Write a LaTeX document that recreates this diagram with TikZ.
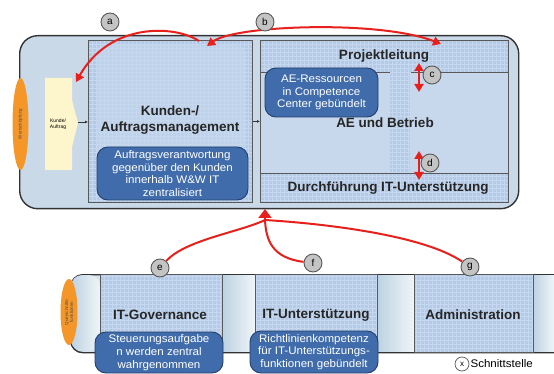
\documentclass[tikz,border=0pt]{standalone}
\usepackage{fontspec}
\setmainfont{Liberation Sans}
\newfontfamily\widefont[FakeStretch=1.05]{Liberation Sans}
\usetikzlibrary{arrows.meta,shapes.geometric,positioning}

\tikzset{
	outerframe/.style={draw=black!80, line width=1.4pt, anchor=north west, inner sep=0pt},
	funcbox/.style={draw=black!65, line width=0.8pt, fill=gridfill, anchor=north west, inner sep=0pt},
	boxedge/.style={draw=black!65, line width=0.8pt},
	gridlines/.style={draw=gridc, line width=0.5pt, step=4pt},
	notebox/.style={draw=calloutline, line width=0.9pt, fill=calloutfill, rounded corners=11pt, text=white, align=center, inner sep=1pt, font=\widefont\fontsize{11}{12.8}\selectfont},
	boxtitle/.style={align=center, text=black!85, font=\bfseries\fontsize{13.5}{16.5}\selectfont},
	tagcircle/.style={circle, draw=black!65, line width=0.9pt, fill=tagfill, minimum size=18pt, inner sep=0pt, font=\fontsize{10}{10}\selectfont},
	redline/.style={draw=arrowred, line width=2pt},
	redarrow/.style={redline, -{Triangle[width=9pt,length=8pt]}},
	redboth/.style={redline, {Triangle[width=9pt,length=8pt]}-{Triangle[width=9pt,length=8pt]}},
	sidelabel/.style={ellipse, fill=orangefill, inner sep=0pt, align=center, text=black!70, font=\fontsize{4.5}{5}\selectfont},
	smallarrow/.style={draw=black!80, line width=0.8pt, -{Latex[length=3pt,width=3pt]}},
}

\begin{document}
\begin{tikzpicture}[x=1pt, y=-1pt]
	\definecolor{framefill}{RGB}{201,217,232}
	\definecolor{supportfill}{RGB}{214,227,237}
	\definecolor{gridfill}{RGB}{180,203,232}
	\definecolor{gridc}{RGB}{198,216,240}
	\definecolor{softfill}{RGB}{199,216,237}
	\definecolor{calloutfill}{RGB}{64,108,172}
	\definecolor{calloutline}{RGB}{35,62,105}
	\definecolor{tagfill}{RGB}{196,196,196}
	\definecolor{arrowred}{RGB}{232,32,28}
	\definecolor{orangefill}{RGB}{244,150,40}
	\definecolor{yellowfill}{RGB}{253,246,204}
	\definecolor{gapleft}{RGB}{188,210,226}
	\definecolor{gapright}{RGB}{240,245,248}

% \gridbox#node
\def\gridbox#1{
	\draw[gridlines] (#1.south west) grid (#1.north east);
	\draw[boxedge] (#1.south west) rectangle (#1.north east);
}

% \tagmark#name#x#y#letter
\def\tagmark#1#2#3#4{
	\node[tagcircle] (#1) at (#2, #3) {#4};
}

	\useasboundingbox (0, 0) rectangle (554, 374);
	\clip (0, 0) rectangle (554, 374);

	% value chain
	\node[outerframe, fill=framefill, rounded corners=18pt, minimum width=499pt, minimum height=173pt] (valuechain) at (19, 35) {};
	\node[sidelabel, rotate=90, minimum width=92pt, minimum height=16pt] (wertlabel) at (20.5, 124) {Wertschöpfung};
	\fill[yellowfill] (45, 78) -- (72, 78) -- (72, 100) -- (78, 123) -- (72, 147) -- (72, 170) -- (45, 170) -- cycle;
	\node[align=center, font=\fontsize{5}{6}\selectfont] (kunde) at (58, 124) {Kunde/\\Auftrag};
	\coordinate (kundetip) at (78, 122);

	\node[funcbox, minimum width=164pt, minimum height=162pt] (kundenbox) at (88, 40) {};
	\gridbox{kundenbox}
	\node[fill=softfill, fill opacity=0.6, rounded corners=10pt, minimum width=150pt, minimum height=152pt] (kundeninner) at (171, 121) {};
	\node[boxtitle] (kundentitle) at (170, 120) {Kunden-/\\Auftragsmanagement};
	\node[notebox, minimum width=151pt, minimum height=53pt] (kundennote) at (172.5, 173.5) {Auftragsverantwortung\\gegenüber den Kunden\\innerhalb W\&W IT\\zentralisiert};

	\node[funcbox, minimum width=248pt, minimum height=32pt] (projband) at (260, 40) {};
	\gridbox{projband}
	\node[funcbox, fill=softfill, minimum width=248pt, minimum height=101pt] (aemid) at (260, 72) {};
	\node[funcbox, draw=none, minimum width=20pt, minimum height=101pt] (aestripe) at (390, 72) {};
	\draw[gridlines] (aestripe.south west) grid (aestripe.north east);
	\node[funcbox, minimum width=248pt, minimum height=29pt] (durchband) at (260, 173) {};
	\gridbox{durchband}
	\draw[boxedge] (projband.north west) rectangle (durchband.south east);
	\node[boxtitle] (projtitle) at (384, 56) {Projektleitung};
	\node[boxtitle] (aetitle) at (385, 123) {AE und Betrieb};
	\node[boxtitle] (durchtitle) at (388, 188) {Durchführung IT-Unterstützung};
	\node[notebox, minimum width=113pt, minimum height=49pt] (aenote) at (321.5, 92.5) {AE-Ressourcen\\in Competence\\Center gebündelt};

	\draw[smallarrow] (kundetip) -- (kundetip -| kundenbox.west);
	\draw[smallarrow] (kundenbox.east) -- (kundenbox.east -| aemid.west);

	% support functions
	\node[outerframe, fill=supportfill, rounded corners=12pt, minimum width=540pt, minimum height=78pt] (support) at (70, 274) {};
	\shade[left color=gapleft, right color=gapright] (222, 275) rectangle (255, 351);
	\shade[left color=gapleft, right color=gapright] (377, 275) rectangle (414, 351);
	\shade[left color=gapleft, right color=gapright] (533, 275) rectangle (554, 351);
	\shade[left color=gapleft, right color=gapright, rounded corners=11pt] (71, 275) -- (100, 275) -- (100, 351) -- (71, 351) -- cycle;
	\node[sidelabel, rotate=90, minimum width=66pt, minimum height=17pt] (querlabel) at (69, 312) {Querschnitts-\\funktionen};

	\node[funcbox, minimum width=122pt, minimum height=78pt] (govbox) at (100, 274) {};
	\gridbox{govbox}
	\node[funcbox, minimum width=122pt, minimum height=78pt] (itubox) at (255, 274) {};
	\gridbox{itubox}
	\node[funcbox, minimum width=119pt, minimum height=78pt] (adminbox) at (414, 274) {};
	\gridbox{adminbox}
	\node[boxtitle] (govtitle) at (160, 315) {IT-Governance};
	\node[boxtitle] (itutitle) at (316, 315) {IT-Unterstützung};
	\node[boxtitle] (admintitle) at (473, 315) {Administration};
	\node[notebox, minimum width=128pt, minimum height=41pt] (govnote) at (159, 352.5) {Steuerungsaufgabe\\n werden zentral\\wahrgenommen};
	\node[notebox, minimum width=128pt, minimum height=42pt] (itunote) at (314, 352) {Richtlinienkompetenz\\für IT-Unterstützungs-\\funktionen gebündelt};

	% interfaces
	\coordinate (aStart) at (199, 41);
	\coordinate (aEnd) at (76, 82);
	\coordinate (bStart) at (207, 46);
	\coordinate (bEnd) at (441, 44);
	\coordinate (cTop) at (419, 63);
	\coordinate (cBot) at (419, 92);
	\coordinate (dTop) at (419, 151);
	\coordinate (dBot) at (419, 180);
	\coordinate (hub) at (265, 209);
	\coordinate (hubbase) at (265, 220);

	\tagmark{tagE}{160}{268}{e}
	\tagmark{tagF}{313}{263}{f}
	\tagmark{tagG}{470}{267}{g}

	\draw[redarrow] (aStart) .. controls (175, 25) and (110, 22) .. (aEnd);
	\draw[redboth] (bStart) .. controls (235, 25) and (380, 20) .. (bEnd);
	\draw[redboth] (cTop) -- (cBot);
	\draw[redboth] (dTop) -- (dBot);
	\draw[redline] (tagE) .. controls (185, 240) and (240, 232) .. (hubbase);
	\draw[redline] (tagF) .. controls (272, 258) and (266, 240) .. (hubbase);
	\draw[redline] (tagG) .. controls (425, 236) and (330, 224) .. (hubbase);
	\draw[redline, -{Triangle[width=13pt,length=9pt]}] (hubbase) -- (hub);

	\tagmark{tagA}{110}{22}{a}
	\tagmark{tagB}{265}{22}{b}
	\tagmark{tagC}{432}{75}{c}
	\tagmark{tagD}{430}{163}{d}
	\node[tagcircle, minimum size=14pt, line width=0.7pt, fill=white, font=\fontsize{8}{8}\selectfont] (tagX) at (462, 364) {x};
	\node[right=1pt of tagX, inner sep=0pt, font=\widefont\fontsize{11}{11}\selectfont] (legend) {Schnittstelle};
\end{tikzpicture}
\end{document}
